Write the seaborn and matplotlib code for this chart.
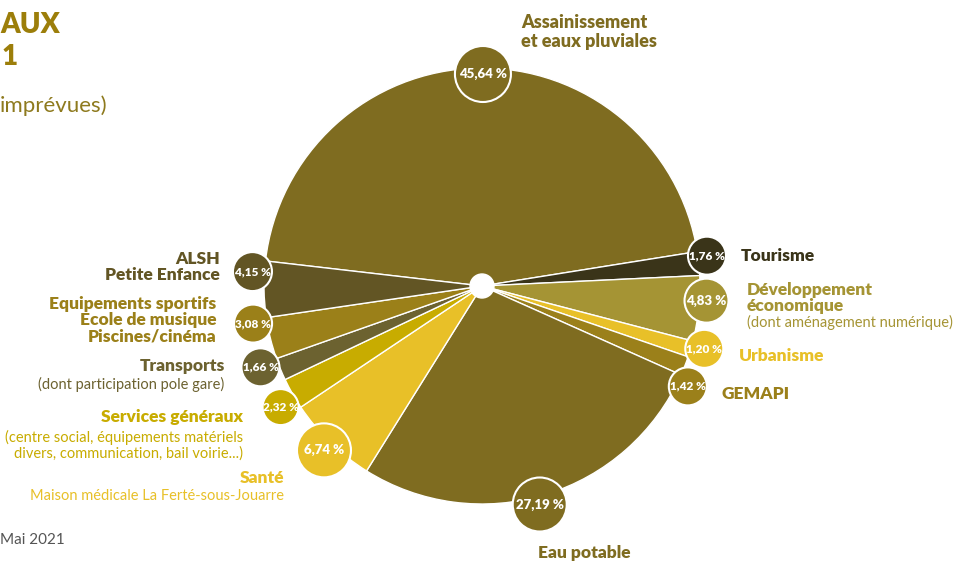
'''Répartition des travaux - camembert'''
import matplotlib
matplotlib.use('Agg')
import matplotlib.pyplot as plt
from matplotlib.patches import Circle
import numpy as np
import seaborn as sns

# données
categories = ['Assainissement et eaux pluviales', 'Tourisme',
              'Développement économique', 'Urbanisme', 'GEMAPI',
              'Eau potable', 'Santé', 'Services généraux', 'Transports',
              'Equipements sportifs', 'ALSH Petite Enfance']
values = [45.64, 1.76, 4.83, 1.20, 1.42, 27.19, 6.74, 2.32, 1.66, 3.08, 4.15]

# style
colors = ['#7F6C20', '#3A3419', '#A59434', '#E8C028', '#9B801A',
          '#7F6C20', '#E8C028', '#C8AC00', '#6C6230', '#9B8019', '#625524']
bubble_r = [28, 19, 22, 19, 19, 27, 27, 18, 19, 19, 19.5]
nudge = [-1.5, 1.75, 2.2, 1.0, -4.5, -2.2, 0.2, 1.4, -2.3, -4.6, -4.5]
bubble_d = [212, 227, 225, 231, 229, 226, 228, 235, 236, 232, 230]

W, H = 960, 562
CX, CY, R = 482, 286, 218


def Y(y):
    return H - y


def main():
    sns.set_theme(style='white')
    plt.rcParams['font.family'] = ['Lato', 'DejaVu Sans']

    fig = plt.figure(figsize=(9.6, 5.62), dpi=100)
    ax = fig.add_axes([0, 0, 1, 1])

    start = 173.4
    ax.pie(values, colors=colors, startangle=start, counterclock=False,
           radius=R, center=(CX, Y(CY)), frame=True,
           wedgeprops=dict(edgecolor='white', linewidth=1))
    ax.add_patch(Circle((CX, Y(CY)), 12, color='white', zorder=5))

    # bulles des pourcentages
    cum = np.cumsum([0] + values[:-1])
    for i, v in enumerate(values):
        mid = start - (cum[i] + v / 2) * 3.6 + nudge[i]
        a = np.deg2rad(mid)
        x = CX + bubble_d[i] * np.cos(a)
        y = Y(CY) + bubble_d[i] * np.sin(a)
        ax.add_patch(Circle((x, y), bubble_r[i], facecolor=colors[i],
                            edgecolor='white', linewidth=1.5, zorder=6))
        lab = f'{v:.2f}'.replace('.', ',') + ' %'
        fs = 9.5 if bubble_r[i] >= 22 else 8.5
        ax.text(x, y, lab, color='white', fontsize=fs, fontweight='heavy',
                ha='center', va='center', zorder=7)

    bold = dict(fontsize=12.5, fontweight='heavy', linespacing=1.0)
    reg = dict(fontsize=10.5, linespacing=1.15)

    ax.text(521, Y(32), 'Assainissement\net eaux pluviales', color=colors[0],
            ha='left', va='center', fontsize=13, fontweight='heavy',
            linespacing=1.2)
    ax.text(741, Y(256), 'Tourisme', color=colors[1], ha='left',
            va='center', **bold)
    ax.text(747, Y(298), 'Développement\néconomique', color=colors[2],
            ha='left', va='center', **bold)
    ax.text(747, Y(322), '(dont aménagement numérique)', color=colors[2],
            ha='left', va='center', **reg)
    ax.text(739, Y(356), 'Urbanisme', color=colors[3], ha='left',
            va='center', **bold)
    ax.text(722, Y(394), 'GEMAPI', color=colors[4], ha='left',
            va='center', **bold)
    ax.text(538, Y(553), 'Eau potable', color=colors[5], ha='left',
            va='center', **bold)

    ax.text(220, Y(267), 'ALSH\nPetite Enfance', color=colors[10],
            ha='right', va='center', **bold)
    ax.text(216, Y(320), 'Equipements sportifs\nEcole de musique\nPiscines/cinéma',
            color=colors[9], ha='right', va='center', **bold)
    ax.text(225, Y(366), 'Transports', color=colors[8], ha='right',
            va='center', **bold)
    ax.text(224, Y(384), '(dont participation pole gare)', color=colors[8],
            ha='right', va='center', **reg)
    ax.text(243, Y(417), 'Services généraux', color=colors[7], ha='right',
            va='center', **bold)
    ax.text(243, Y(445), '(centre social, équipements matériels\n'
            'divers, communication, bail voirie...)', color=colors[7],
            ha='right', va='center', **reg)
    ax.text(284, Y(478), 'Santé', color=colors[6], ha='right',
            va='center', **bold)
    ax.text(284, Y(496), 'Maison médicale La Ferté-sous-Jouarre',
            color=colors[6], ha='right', va='center', **reg)

    # titre (fragments visibles)
    ax.text(0, Y(25), 'AUX', color='#9C7E0A',
            fontsize=20, fontweight='heavy', ha='left', va='center')
    ax.text(2, Y(57), '1', color='#9C7E0A', fontsize=20,
            fontweight='heavy', ha='left', va='center')
    ax.text(0, Y(106), 'imprévues)', color='#8E7A1E',
            fontsize=16, ha='left', va='center')
    ax.text(0, Y(540), 'Mai 2021', color='#555555', fontsize=11,
            ha='left', va='center')

    ax.set_xlim(0, W)
    ax.set_ylim(0, H)
    ax.axis('off')
    fig.savefig('out.png', dpi=100)


if __name__ == '__main__':
    main()
